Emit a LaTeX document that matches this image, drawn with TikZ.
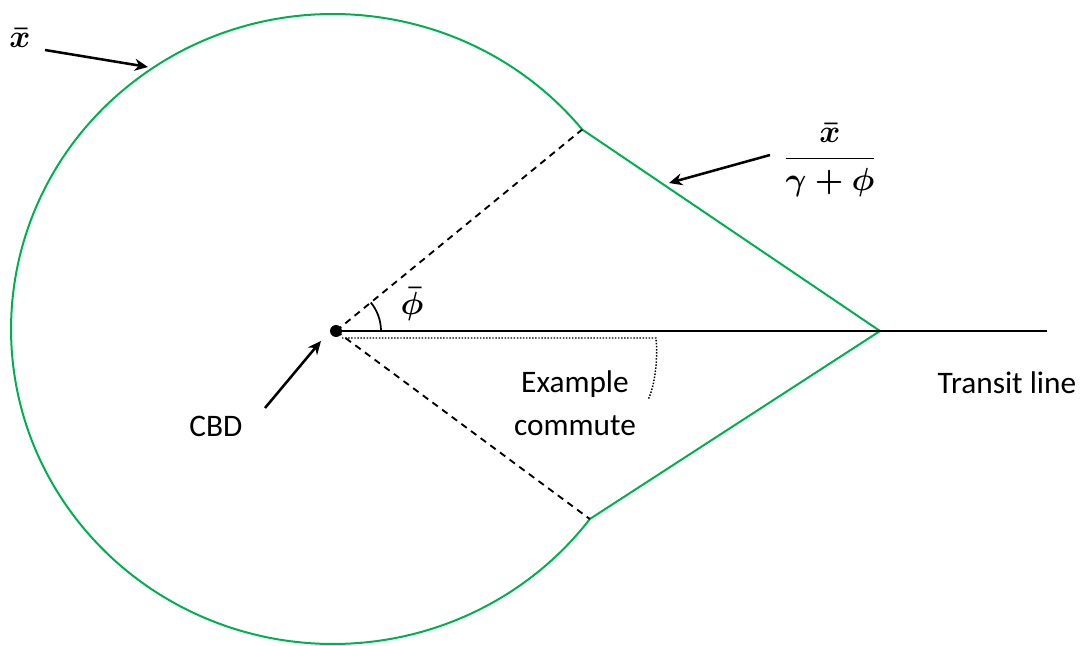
\documentclass[tikz,border=0pt]{standalone}
\usepackage{fontspec}
\setmainfont{Carlito}
\usetikzlibrary{arrows.meta,calc}
\definecolor{cgreen}{RGB}{0,176,80}
\newcommand{\mathbig}[1]{\scalebox{2.4}{\boldmath#1}}
\tikzset{
  bound/.style={draw=cgreen, line width=1.5pt, line join=miter},
  blk/.style={draw=black, line width=1.5pt},
  dsh/.style={draw=black, line width=1.4pt, dash pattern=on 5pt off 4pt},
  dtt/.style={draw=black, line width=1.1pt, dash pattern=on 1.1pt off 1.2pt},
  arr/.style={draw=black, line width=1.9pt, -{Stealth[length=10pt,width=9pt]}},
  lbl/.style={font=\fontsize{23.5}{32}\selectfont, inner sep=0pt, align=center},
  mth/.style={inner sep=0pt}
}
\begin{document}
\begin{tikzpicture}[x=0.75pt,y=-0.75pt]
\useasboundingbox (0,0) rectangle (1083,646);
% key points
\coordinate (T1) at (582.2,129.5);
\coordinate (T2) at (589.8,519);
\coordinate (A) at (880,331);
\coordinate (E) at (1047,331);
\node[circle, fill=black, inner sep=0pt, minimum size=9pt] (cbd) at (336,331) {};
% boundary
\draw[bound] (T1) arc[start angle=39.3, end angle=322.9, x radius=241.5pt, y radius=236.25pt] -- (A) -- cycle;
% transit line
\draw[blk] (cbd.center) -- (E);
% dashed rays
\draw[dsh] (cbd.center) -- (T1);
\draw[dsh] (cbd.center) -- (T2);
% angle arc
\draw[black, line width=1.3pt] (381,331) arc[start angle=0, end angle=39.3, radius=33.75pt];
\node[mth] (phi) at (412,304) {\mathbig{$\bar{\phi}$}};
% example commute
\coordinate (D1) at (342,338);
\coordinate (D2) at (656,338);
\coordinate (D3) at (648,400);
\draw[dtt] (D1) -- (D2) .. controls (658,360) and (655,385) .. (D3);
\node[lbl] (ex) at (575,403) {Example\\commute};
% labels
\node[lbl, anchor=base] (cbdl) at (216,436) {CBD};
\node[lbl, anchor=base] (tl) at (1007,393) {Transit line};
\node[mth] (xb) at (20,38) {\mathbig{$\bar{x}$}};
\node[mth] (fr) at (830,160) {\mathbig{$\displaystyle\frac{\bar{x}}{\gamma+\phi}$}};
% arrows
\coordinate (a1s) at (265,408);
\coordinate (a1e) at (321,341);
\draw[arr] (a1s) -- (a1e);
\coordinate (a2s) at (45,50);
\coordinate (a2e) at (148,67);
\draw[arr] (a2s) -- (a2e);
\coordinate (a3s) at (770,155);
\coordinate (a3e) at (669,183);
\draw[arr] (a3s) -- (a3e);
\end{tikzpicture}
\end{document}
